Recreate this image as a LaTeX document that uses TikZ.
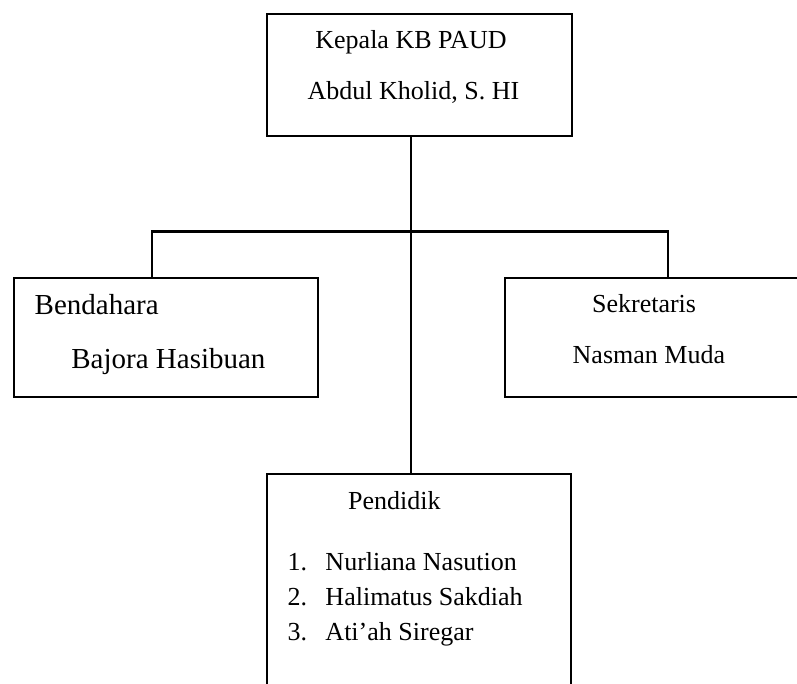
\documentclass[tikz,border=0pt]{standalone}
\usepackage{fontspec}
\setmainfont{Liberation Serif}
\usepackage{tikz}

\begin{document}
\begin{tikzpicture}
  [x=0.5pt, y=-0.5pt,
   box/.style={draw, line width=1.1pt, inner sep=0, anchor=north west},
   txt/.style={inner sep=0, anchor=base west, font=\fontsize{13}{15}\selectfont},
   big/.style={txt, font=\fontsize{14.5}{17}\selectfont},
   item/.style={txt},
   wire/.style={line width=1.1pt}]
  \useasboundingbox (0, 0) rectangle (797, 684);

  % boxes
  \node[box, minimum width=152.5pt, minimum height=61pt] (kepala) at (266, 13) {};
  \node[box, minimum width=152pt, minimum height=59.5pt] (bend) at (13, 277) {};
  \node[box, minimum width=160pt, minimum height=59.5pt] (sek) at (504, 277) {};
  \node[box, minimum width=152pt, minimum height=115pt] (pend) at (266, 473) {};

  % texts
  \node[txt] (k1) at (315, 48.3) {Kepala KB PAUD};
  \node[txt] (k2) at (307.3, 100) {Abdul Kholid, S. HI};
  \node[big] (b1) at (34.3, 314.3) {Bendahara};
  \node[big] (b2) at (71, 368.3) {Bajora Hasibuan};
  \node[txt] (s1) at (591.7, 312.3) {Sekretaris};
  \node[txt] (s2) at (572.3, 363.3) {Nasman Muda};
  \node[txt] (p0) at (347.7, 509.3) {Pendidik};
  \node[item] (p1) at (287.3, 570) {\makebox[18.9pt][l]{1.}Nurliana Nasution};
  \node[item] (p2) at (287.3, 605.7) {\makebox[18.9pt][l]{2.}Halimatus Sakdiah};
  \node[item] (p3) at (287.3, 640) {\makebox[18.9pt][l]{3.}Ati'ah Siregar};

  % lines
  \coordinate (trunk) at (411, 231.5);
  \coordinate (barL) at (152, 231.5);
  \coordinate (barR) at (668, 231.5);
  \draw[wire] (trunk |- kepala.south) -- (trunk |- pend.north);
  \draw[wire] (barL |- bend.north) -- (barL) -- (barR) -- (barR |- sek.north);
\end{tikzpicture}
\end{document}
